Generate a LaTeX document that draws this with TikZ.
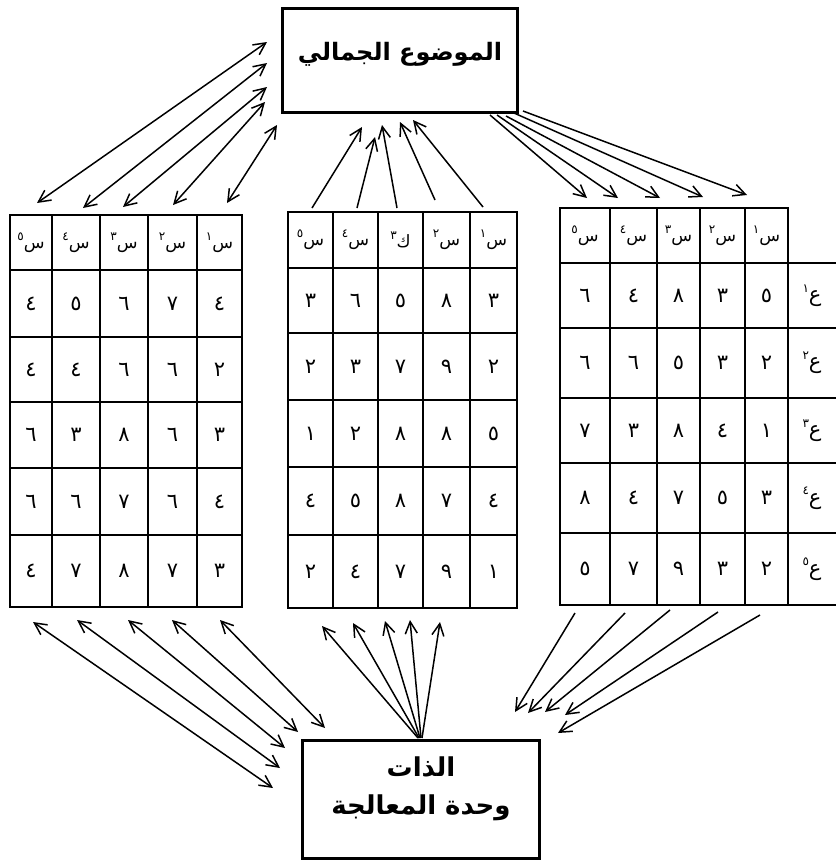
\documentclass[tikz,border=0pt]{standalone}
\usepackage{fontspec}
\setmainfont{DejaVu Sans}
\newfontfamily\arabicfont[Script=Arabic]{DejaVu Sans}
\TeXXeTstate=1
\usetikzlibrary{arrows.meta}
\tikzset{
  bigbox/.style={draw, line width=3pt, inner sep=0pt, fill=white},
  tframe/.style={draw, line width=2.6pt, inner sep=0pt},
  gridline/.style={line width=1.4pt},
  num/.style={font=\arabicfont\fontsize{21}{24}\selectfont, inner sep=0pt},
  hdr/.style={font=\arabicfont\fontsize{17}{20}\selectfont, inner sep=0pt},
  boxtext/.style={font=\arabicfont\bfseries\fontsize{26}{32}\selectfont, align=center, inner sep=0pt},
  toptextstyle/.style={font=\arabicfont\bfseries\fontsize{24}{30}\selectfont, align=center, inner sep=0pt},
  barb/.tip={Straight Barb[length=12pt,width=12pt]},
  arr/.style={line width=1.5pt, -barb},
  darr/.style={line width=1.5pt, barb-barb},
}
\newcommand\hd[2]{\beginR #1\raisebox{0.45em}{\fontsize{12}{14}\selectfont #2}\endR}
\begin{document}
\begin{tikzpicture}[x=1pt,y=-1pt]
\useasboundingbox[fill=white] (0,0) rectangle (836,862);

% ---------- boxes ----------
\node[bigbox, minimum width=235pt, minimum height=104pt] (top) at (400,60) {};
\node[toptextstyle] (toptext) at (400,54) {\beginR الموضوع الجمالي\endR};
\node[bigbox, minimum width=237pt, minimum height=118pt] (bot) at (421,799) {};
\node[boxtext] (bottext1) at (421,767) {\beginR الذات\endR};
\node[boxtext] (bottext2) at (421,808) {\beginR وحدة المعالجة\endR};

% ---------- left table ----------
\node[tframe, minimum width=232pt, minimum height=392pt] (LT) at (126,411) {};
\foreach \x in {52,100,148,197} \draw[gridline] (\x,215) -- (\x,607);
\foreach \y in {270,337,402,468,535} \draw[gridline] (10,\y) -- (242,\y);
\foreach \d [count=\c] in {٥,٤,٣,٢,١} {
  \pgfmathsetmacro\cx{{31,76,124,172.5,219.5}[\c-1]}
  \node[hdr] (LH-\c) at (\cx,243) {\hd{س}{\d}};
}
\foreach \rowvals [count=\r] in {{٤,٥,٦,٧,٤},{٤,٤,٦,٦,٢},{٦,٣,٨,٦,٣},{٦,٦,٧,٦,٤},{٤,٧,٨,٧,٣}} {
  \foreach \v [count=\c] in \rowvals {
    \pgfmathsetmacro\cx{{31,76,124,172.5,219.5}[\c-1]}
    \pgfmathsetmacro\cy{{303.5,369.5,435,501.5,571}[\r-1]}
    \node[num] (L-\r-\c) at (\cx,\cy) {\v};
  }
}

% ---------- middle table ----------
\node[tframe, minimum width=229pt, minimum height=396pt] (MT) at (402.5,410) {};
\foreach \x in {333,378,423,470} \draw[gridline] (\x,212) -- (\x,608);
\foreach \y in {268,333,400,467,535} \draw[gridline] (288,\y) -- (517,\y);
\foreach \l/\d [count=\c] in {س/٥,س/٤,ك/٣,س/٢,س/١} {
  \pgfmathsetmacro\cx{{310.5,355.5,400.5,446.5,493.5}[\c-1]}
  \node[hdr] (MH-\c) at (\cx,240) {\hd{\l}{\d}};
}
\foreach \rowvals [count=\r] in {{٣,٦,٥,٨,٣},{٢,٣,٧,٩,٢},{١,٢,٨,٨,٥},{٤,٥,٨,٧,٤},{٢,٤,٧,٩,١}} {
  \foreach \v [count=\c] in \rowvals {
    \pgfmathsetmacro\cx{{310.5,355.5,400.5,446.5,493.5}[\c-1]}
    \pgfmathsetmacro\cy{{300.5,366.5,433.5,501,571.5}[\r-1]}
    \node[num] (M-\r-\c) at (\cx,\cy) {\v};
  }
}

% ---------- right table ----------
\node[tframe, minimum width=228pt, minimum height=397pt] (RT) at (674,406.5) {};
\draw[tframe] (560,208) rectangle (610,263);
\foreach \x in {610,657,700,745} \draw[gridline] (\x,208) -- (\x,605);
\foreach \y in {263,328,398,463,533} \draw[gridline] (560,\y) -- (836,\y);
\draw[gridline] (788,605) -- (836,605);
\foreach \d [count=\c] in {٥,٤,٣,٢,١} {
  \pgfmathsetmacro\cx{{585,633.5,678.5,722.5,766.5}[\c-1]}
  \node[hdr] (RH-\c) at (\cx,236) {\hd{س}{\d}};
}
\foreach \rowvals [count=\r] in {{٦,٤,٨,٣,٥},{٦,٦,٥,٣,٢},{٧,٣,٨,٤,١},{٨,٤,٧,٥,٣},{٥,٧,٩,٣,٢}} {
  \foreach \v [count=\c] in \rowvals {
    \pgfmathsetmacro\cx{{585,633.5,678.5,722.5,766.5}[\c-1]}
    \pgfmathsetmacro\cy{{295.5,363,430.5,498,569}[\r-1]}
    \node[num] (R-\r-\c) at (\cx,\cy) {\v};
  }
}
\foreach \d [count=\r] in {١,٢,٣,٤,٥} {
  \pgfmathsetmacro\cy{{295.5,363,430.5,498,569}[\r-1]}
  \node[num] (RL-\r) at (812,\cy) {\hd{ع}{\d}};
}

% ---------- arrow end points ----------
% top-left (double)
\foreach \i/\ax/\ay/\bx/\by in {1/37/203/267/42, 2/83/208/267/63, 3/123/207/267/87, 4/173/205/265/102, 5/227/203/277/125}
  {\coordinate (tla\i) at (\ax,\ay); \coordinate (tlb\i) at (\bx,\by);}
% top-right
\foreach \i/\ax/\ay/\bx/\by in {1/490/115/587/198, 2/497/115/618/198, 3/506/116/660/198, 4/514/113/703/197, 5/523/111/747/195}
  {\coordinate (tra\i) at (\ax,\ay); \coordinate (trb\i) at (\bx,\by);}
% top-middle
\foreach \i/\ax/\ay/\bx/\by in {1/312/208/362/127, 2/357/208/375/137, 3/397/208/382/125, 4/435/200/400/122, 5/483/207/413/120}
  {\coordinate (tma\i) at (\ax,\ay); \coordinate (tmb\i) at (\bx,\by);}
% bottom-left (double)
\foreach \i/\ax/\ay/\bx/\by in {1/33/622/273/788, 2/77/620/280/768, 3/128/620/285/748, 4/172/620/298/732, 5/220/620/325/728}
  {\coordinate (bla\i) at (\ax,\ay); \coordinate (blb\i) at (\bx,\by);}
% bottom-middle
\foreach \i/\ax/\ay/\bx/\by in {1/418/738/322/626, 2/419/738/353/623, 3/420/738/385/621, 4/421/738/410/620, 5/422/738/440/622}
  {\coordinate (bma\i) at (\ax,\ay); \coordinate (bmb\i) at (\bx,\by);}
% bottom-right
\foreach \i/\ax/\ay/\bx/\by in {1/575/613/515/712, 2/625/613/528/713, 3/670/610/545/712, 4/718/612/565/715, 5/760/615/558/733}
  {\coordinate (bra\i) at (\ax,\ay); \coordinate (brb\i) at (\bx,\by);}

% ---------- arrows ----------
\foreach \i in {1,...,5} {
  \draw[darr] (tla\i) -- (tlb\i);
  \draw[arr] (tra\i) -- (trb\i);
  \draw[arr] (tma\i) -- (tmb\i);
  \draw[darr] (bla\i) -- (blb\i);
  \draw[arr] (bma\i) -- (bmb\i);
  \draw[arr] (bra\i) -- (brb\i);
}
\end{tikzpicture}
\end{document}
